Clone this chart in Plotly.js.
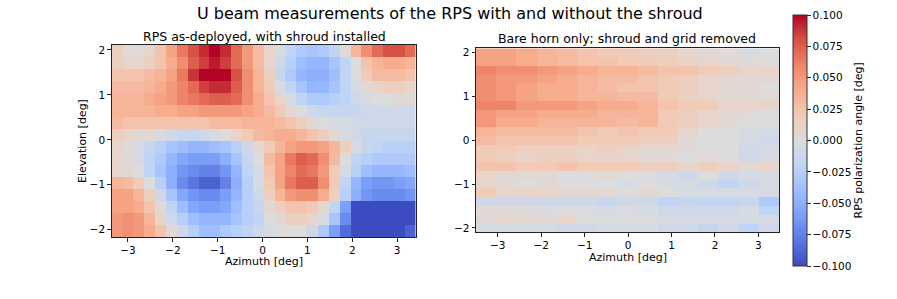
<!DOCTYPE html>
<html>
<head>
<meta charset="utf-8">
<script src="https://cdn.plot.ly/plotly-3.0.1.min.js"></script>
<style>html,body{margin:0;padding:0;background:#fff;}#chart{width:897px;height:299px;}</style>
</head>
<body>
<div id="chart"></div>
<script>
// ---------------- data ----------------
const mainTitle = "U beam measurements of the RPS with and without the shroud";
const leftTitle = "RPS as-deployed, with shroud installed";
const rightTitle = "Bare horn only; shroud and grid removed";
const xLabel = "Azimuth [deg]";
const yLabel = "Elevation [deg]";
const cbLabel = "RPS polarization angle [deg]";

// left panel: azimuth cell centres (28) and elevation cell centres (16, top to bottom)
const azLeft = [-3.242, -3.0, -2.758, -2.516, -2.274, -2.032, -1.79, -1.548, -1.306, -1.064,
  -0.822, -0.58, -0.338, -0.096, 0.146, 0.388, 0.63, 0.872, 1.114, 1.356,
  1.598, 1.84, 2.082, 2.324, 2.566, 2.808, 3.05, 3.292];
const elLeft = [1.977, 1.71, 1.443, 1.176, 0.909, 0.642, 0.375, 0.108,
  -0.159, -0.426, -0.693, -0.96, -1.227, -1.494, -1.761, -2.028];
const zLeft = [
  [0.015,0.003,0.003,0.008,0.025,0.045,0.065,0.08,0.09,0.1,0.09,0.07,0.05,0.03,0.01,-0.005,-0.02,-0.03,-0.035,-0.03,-0.02,0.002,0.035,0.055,0.07,0.08,0.08,0.07],
  [0.015,0.01,0.01,0.015,0.025,0.04,0.055,0.075,0.085,0.095,0.085,0.07,0.05,0.03,0.01,-0.01,-0.025,-0.04,-0.045,-0.045,-0.035,-0.02,0,0.025,0.035,0.04,0.04,0.035],
  [0.025,0.025,0.025,0.03,0.035,0.045,0.065,0.088,0.1,0.1,0.1,0.08,0.055,0.035,0.015,-0.015,-0.03,-0.045,-0.05,-0.05,-0.04,-0.02,0,0.02,0.03,0.03,0.03,0.025],
  [0.03,0.03,0.03,0.035,0.04,0.05,0.06,0.07,0.085,0.09,0.09,0.075,0.055,0.035,0.02,-0.005,-0.02,-0.035,-0.045,-0.045,-0.035,-0.02,-0.005,0.005,0.01,0.015,0.015,0.01],
  [0.035,0.035,0.035,0.04,0.045,0.05,0.06,0.065,0.07,0.075,0.075,0.07,0.055,0.04,0.025,0.01,-0.005,-0.02,-0.03,-0.03,-0.025,-0.02,-0.01,-0.005,0,0,0.005,0.005],
  [0.035,0.035,0.035,0.035,0.04,0.04,0.045,0.045,0.05,0.05,0.05,0.05,0.045,0.04,0.03,0.02,0.005,0,-0.01,-0.015,-0.015,-0.015,-0.015,-0.01,-0.01,-0.01,-0.01,-0.01],
  [0.03,0.025,0.025,0.025,0.025,0.025,0.025,0.025,0.025,0.03,0.03,0.03,0.035,0.035,0.035,0.03,0.025,0.015,0.005,0,-0.005,-0.005,-0.01,-0.01,-0.01,-0.01,-0.01,-0.01],
  [0.015,0.01,0.005,0.005,-0.005,-0.01,-0.015,-0.015,-0.01,-0.005,0,0.01,0.02,0.03,0.035,0.04,0.04,0.035,0.025,0.015,0.005,-0.005,-0.01,-0.015,-0.015,-0.015,-0.015,-0.015],
  [0.01,0.003,-0.005,-0.015,-0.025,-0.035,-0.04,-0.045,-0.045,-0.04,-0.035,-0.025,-0.01,0.005,0.02,0.035,0.045,0.05,0.05,0.045,0.035,0.015,-0.005,-0.015,-0.02,-0.025,-0.025,-0.025],
  [0.01,0.005,-0.005,-0.02,-0.03,-0.045,-0.055,-0.06,-0.06,-0.06,-0.05,-0.035,-0.015,0,0.03,0.045,0.065,0.075,0.07,0.055,0.03,0,-0.02,-0.025,-0.03,-0.03,-0.03,-0.03],
  [0.01,0.005,0,-0.02,-0.035,-0.05,-0.065,-0.07,-0.075,-0.075,-0.065,-0.045,-0.02,-0.005,0.025,0.045,0.06,0.07,0.065,0.05,0.02,-0.005,-0.025,-0.04,-0.045,-0.045,-0.045,-0.04],
  [0.035,0.03,0.02,0,-0.025,-0.05,-0.07,-0.08,-0.09,-0.09,-0.075,-0.05,-0.025,-0.005,0.02,0.045,0.065,0.075,0.075,0.055,0.02,-0.02,-0.045,-0.06,-0.065,-0.065,-0.06,-0.055],
  [0.045,0.045,0.035,0.015,-0.01,-0.035,-0.055,-0.065,-0.07,-0.07,-0.06,-0.045,-0.025,-0.01,0.015,0.035,0.05,0.055,0.055,0.04,0.015,-0.025,-0.05,-0.065,-0.07,-0.07,-0.07,-0.065],
  [0.045,0.045,0.04,0.025,0.005,-0.02,-0.04,-0.055,-0.06,-0.06,-0.055,-0.04,-0.025,-0.015,0.005,0.015,0.025,0.025,0.02,0.005,-0.02,-0.06,-0.1,-0.1,-0.1,-0.1,-0.1,-0.1],
  [0.05,0.055,0.05,0.035,0.01,-0.01,-0.025,-0.04,-0.045,-0.045,-0.045,-0.035,-0.025,-0.02,0,0.005,0.015,0.015,0.01,-0.005,-0.035,-0.07,-0.1,-0.1,-0.1,-0.1,-0.1,-0.1],
  [0.05,0.055,0.05,0.04,0.025,0.005,-0.01,-0.025,-0.04,-0.04,-0.03,-0.025,-0.02,-0.01,-0.005,0,0,0,-0.01,-0.03,-0.06,-0.085,-0.1,-0.1,-0.1,-0.1,-0.1,-0.09]
];

// right panel: azimuth cell centres (15) and elevation cell centres (21, top to bottom)
const azRight = [-3.267, -2.8, -2.336, -1.87, -1.405, -0.94, -0.474, -0.009, 0.457, 0.922,
  1.387, 1.853, 2.318, 2.784, 3.249];
const elRight = [2.0, 1.8, 1.6, 1.4, 1.2, 1.0, 0.8, 0.6, 0.4, 0.2, 0.0,
  -0.2, -0.4, -0.6, -0.8, -1.0, -1.2, -1.4, -1.6, -1.8, -2.0];
const zRight = [
  [0.045,0.045,0.04,0.035,0.03,0.025,0.02,0.02,0.015,0.015,0.01,0.005,0.003,-0.005,0.0],
  [0.045,0.045,0.04,0.035,0.03,0.025,0.025,0.02,0.02,0.015,0.012,0.008,0.005,0.003,0.0],
  [0.06,0.055,0.055,0.05,0.045,0.04,0.035,0.035,0.03,0.025,0.025,0.02,0.015,0.01,0.01],
  [0.055,0.05,0.05,0.045,0.04,0.035,0.03,0.03,0.025,0.02,0.015,0.01,0.005,0.005,0.005],
  [0.055,0.05,0.045,0.04,0.04,0.035,0.03,0.025,0.025,0.02,0.015,0.01,0.005,0.005,0.0],
  [0.055,0.05,0.045,0.04,0.04,0.035,0.035,0.03,0.03,0.02,0.015,0.01,0.005,0.005,0.003],
  [0.06,0.06,0.05,0.05,0.05,0.045,0.04,0.04,0.035,0.025,0.02,0.02,0.01,0.01,0.01],
  [0.05,0.045,0.045,0.04,0.04,0.04,0.035,0.035,0.035,0.02,0.015,0.01,0.005,0.003,0.0],
  [0.05,0.04,0.04,0.035,0.035,0.035,0.035,0.03,0.035,0.02,0.015,0.01,0.005,0.0,0.0],
  [0.035,0.03,0.03,0.03,0.03,0.025,0.02,0.025,0.02,0.02,0.01,0.0,0.0,-0.005,-0.005],
  [0.03,0.025,0.025,0.025,0.025,0.02,0.02,0.02,0.015,0.015,0.005,0.0,0.0,-0.005,-0.01],
  [0.02,0.02,0.015,0.015,0.015,0.01,0.015,0.01,0.005,0.005,0.003,0.0,0.0,-0.01,-0.005],
  [0.02,0.015,0.01,0.015,0.015,0.01,0.01,0.01,0.005,0.003,0.0,0.003,0.0,-0.01,-0.005],
  [0.025,0.025,0.02,0.02,0.025,0.02,0.02,0.02,0.015,0.015,0.01,0.015,0.01,0.005,0.01],
  [0.01,0.005,0.005,0.005,0.0,0.0,0.005,0.0,0.0,-0.005,-0.01,0.0,-0.01,-0.005,-0.005],
  [0.01,0.005,0.0,0.005,0.0,0.0,0.0,-0.005,0.0,-0.005,-0.005,-0.01,-0.02,-0.01,-0.005],
  [0.02,0.01,0.01,0.01,0.005,0.005,0.005,0.0,0.005,0.0,-0.005,-0.005,-0.005,-0.005,-0.005],
  [-0.01,-0.01,-0.01,-0.01,-0.01,-0.01,-0.015,-0.01,-0.01,-0.02,-0.015,-0.02,-0.02,-0.015,-0.03],
  [0.002,0.002,0.002,-0.003,0.0,-0.003,-0.005,-0.003,-0.005,-0.01,-0.01,-0.01,-0.01,-0.005,-0.02],
  [0.005,0.008,0.005,0.005,0.01,0.0,0.0,0.0,0.0,-0.005,-0.005,-0.005,-0.005,-0.005,-0.005],
  [-0.005,-0.005,-0.005,-0.005,-0.01,-0.01,-0.005,-0.005,-0.005,-0.01,-0.01,-0.015,-0.01,-0.02,-0.01]
];

const xTicks = [-3, -2, -1, 0, 1, 2, 3];
const yTicks = [-2, -1, 0, 1, 2];
const cbTicks = [-0.1, -0.075, -0.05, -0.025, 0, 0.025, 0.05, 0.075, 0.1];

// ---------------- style ----------------
const W = 897, H = 299;
const px = v => v / W;
const py = v => 1 - v / H;
const FONT = "DejaVu Sans";
const coolwarm = [
  [0.0, "#3b4cc0"], [0.1, "#5977e3"], [0.2, "#7b9ff9"], [0.3, "#9ebeff"],
  [0.4, "#c0d4f5"], [0.5, "#dddcdc"], [0.6, "#f2cbb7"], [0.7, "#f7ac8e"],
  [0.8, "#ee8468"], [0.9, "#d65244"], [1.0, "#b40426"]
];

const axBase = {
  showgrid: false, zeroline: false, showline: true, mirror: true,
  linecolor: "#222", linewidth: 1, ticks: "outside", ticklen: 3.5, tickwidth: 1,
  tickcolor: "#222", tickfont: {family: FONT, size: 10.5, color: "#000"}
};

const traces = [
  {type: "heatmap", x: azLeft, y: elLeft, z: zLeft, xaxis: "x", yaxis: "y",
   colorscale: coolwarm, zmin: -0.1, zmax: 0.1, zsmooth: false, showscale: false},
  {type: "heatmap", x: azRight, y: elRight, z: zRight, xaxis: "x2", yaxis: "y2",
   colorscale: coolwarm, zmin: -0.1, zmax: 0.1, zsmooth: false, showscale: true,
   colorbar: {
     x: px(793), xanchor: "left", xpad: 0, y: py(15), yanchor: "top", ypad: 0,
     thickness: 13.5, thicknessmode: "pixels", len: 251, lenmode: "pixels",
     outlinewidth: 1, outlinecolor: "#333",
     tickvals: cbTicks, tickformat: ".3f", ticks: "outside", ticklen: 3.5,
     tickcolor: "#222", tickfont: {family: FONT, size: 10.5, color: "#000"}
   }}
];

const layout = {
  width: W, height: H, margin: {l: 0, r: 0, t: 0, b: 0},
  paper_bgcolor: "#fff", plot_bgcolor: "#fff", showlegend: false,
  font: {family: FONT, color: "#000"},
  xaxis: Object.assign({}, axBase, {domain: [px(111.7), px(415.7)], range: [-3.363, 3.413],
    tickvals: xTicks, anchor: "y"}),
  yaxis: Object.assign({}, axBase, {domain: [py(237), py(45)], range: [-2.161, 2.11],
    tickvals: yTicks, anchor: "x"}),
  xaxis2: Object.assign({}, axBase, {domain: [px(476), px(779.3)], range: [-3.5, 3.48],
    tickvals: xTicks, anchor: "y2"}),
  yaxis2: Object.assign({}, axBase, {domain: [py(232.3), py(48.3)], range: [-2.1, 2.1],
    tickvals: yTicks, anchor: "x2"}),
  annotations: [
    {text: mainTitle, xref: "paper", yref: "paper", x: px(450), y: py(14), showarrow: false,
     xanchor: "center", yanchor: "middle", font: {family: FONT, size: 16, color: "#000"}},
    {text: leftTitle, xref: "paper", yref: "paper", x: px(264), y: py(36), showarrow: false,
     xanchor: "center", yanchor: "middle", font: {family: FONT, size: 12.5, color: "#000"}},
    {text: rightTitle, xref: "paper", yref: "paper", x: px(627), y: py(38.5), showarrow: false,
     xanchor: "center", yanchor: "middle", font: {family: FONT, size: 12.5, color: "#000"}},
    {text: xLabel, xref: "paper", yref: "paper", x: px(263.7), y: py(261), showarrow: false,
     xanchor: "center", yanchor: "middle", font: {family: FONT, size: 11, color: "#000"}},
    {text: xLabel, xref: "paper", yref: "paper", x: px(628), y: py(257.5), showarrow: false,
     xanchor: "center", yanchor: "middle", font: {family: FONT, size: 11, color: "#000"}},
    {text: yLabel, xref: "paper", yref: "paper", x: px(82), y: py(141), showarrow: false,
     textangle: -90, xanchor: "center", yanchor: "middle", font: {family: FONT, size: 11, color: "#000"}},
    {text: cbLabel, xref: "paper", yref: "paper", x: px(858), y: py(140.5), showarrow: false,
     textangle: -90, xanchor: "center", yanchor: "middle", font: {family: FONT, size: 11, color: "#000"}}
  ]
};

Plotly.newPlot("chart", traces, layout, {displayModeBar: false, staticPlot: true});
</script>
</body>
</html>
